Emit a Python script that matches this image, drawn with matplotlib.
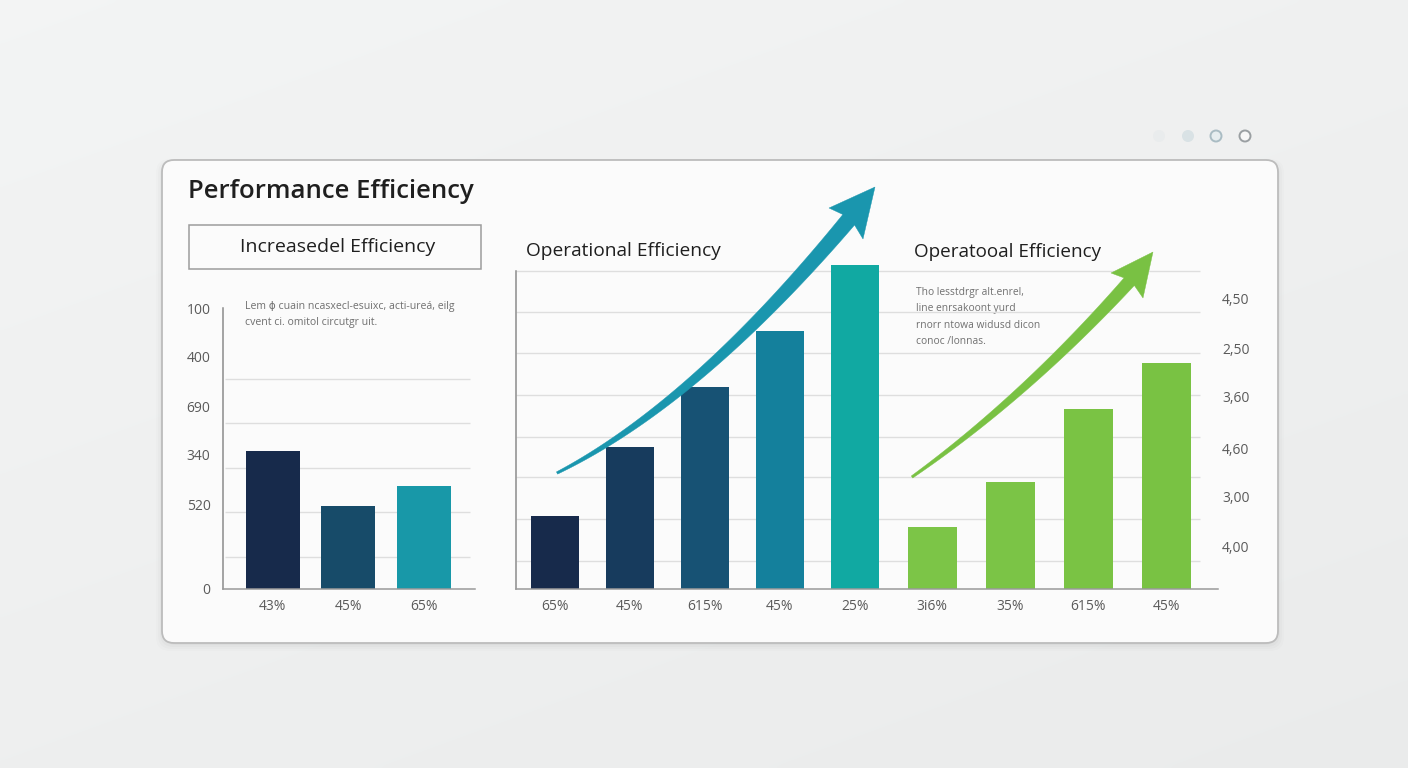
import numpy as np
import matplotlib
matplotlib.use('Agg')
import matplotlib.pyplot as plt
from matplotlib.patches import FancyBboxPatch, Polygon, Circle, Rectangle

W, H = 1408, 768
plt.rcParams['font.family'] = ['Open Sans', 'DejaVu Sans']

# ---------------- data ----------------
left_labels = ['43%', '45%', '65%']
left_values = [138, 83, 103]
left_colors = ['#172a4b', '#174b69', '#1898a8']
left_ytick_vals = [0, 85, 134, 183, 232, 281]
left_ytick_labels = ['0', '520', '340', '690', '400', '100']
left_grid = [32, 77, 121, 166, 210]

ops_labels = ['65%', '45%', '615%', '45%', '25%']
ops_values = [73, 142, 202, 258, 324]
ops_colors = ['#172a4b', '#173b5d', '#175274', '#14809c', '#11a9a2']

green_labels = ['3i6%', '35%', '615%', '45%']
green_values = [62, 107, 180, 226]
green_colors = ['#7cc547', '#7bc446', '#7ac344', '#79c243']

right_ytick_vals = [43, 92, 141, 192, 241, 290]
right_ytick_labels = ['4,00', '3,00', '4,60', '3,60', '2,50', '4,50']
main_grid = [28, 70, 112, 152, 194, 236, 277, 318]

title = 'Performance Efficiency'
box_title = 'Increasedel Efficiency'
mid_title = 'Operational Efficiency'
right_title = 'Operatooal Efficiency'
left_note = ['Lem ϕ cuain ncasxecl-esuixc, acti-ureá, eilg',
             'cvent ci. omitol circutgr uit.']
right_note = ['Tho lesstdrgr alt.enrel,', 'line enrsakoont yurd',
              'rnorr ntowa widusd dicon', 'conoc /lonnas.']

TEXT = '#1f1f1f'
TICK = '#5a5a5a'

fig = plt.figure(figsize=(W / 100, H / 100), dpi=100)

# ---------------- background / card ----------------
bg = fig.add_axes([0, 0, 1, 1], zorder=0)
bg.set_xlim(0, W)
bg.set_ylim(H, 0)
bg.axis('off')
yy, xx = np.mgrid[0:H:4, 0:W:4]
g = 0.958 - 0.035 * (0.6 * yy / H + 0.4 * xx / W)
rgb = np.dstack([g - 0.004, g, g])
bg.imshow(np.clip(rgb, 0, 1), extent=[0, W, H, 0], aspect='auto',
          interpolation='bicubic')

for i, a in enumerate([0.025, 0.02, 0.015, 0.01]):
    bg.add_patch(FancyBboxPatch((162 - i * 2, 162 - i), 1116 + i * 4, 483 + i * 3,
                                boxstyle='round,pad=0,rounding_size=14',
                                fc='black', ec='none', alpha=a))
bg.add_patch(FancyBboxPatch((162, 160), 1116, 483,
                            boxstyle='round,pad=0,rounding_size=12',
                            fc='#fbfbfb', ec='#bcbcbc', lw=1.3))

# dots top right
dot_x = [1159, 1188, 1216, 1245]
bg.add_patch(Circle((dot_x[0], 136), 6, fc='#e9eced', ec='none'))
bg.add_patch(Circle((dot_x[1], 136), 6, fc='#d9e2e5', ec='none'))
bg.add_patch(Circle((dot_x[2], 136), 5.5, fc='#e6edef', ec='#a9bcc3', lw=1.4))
bg.add_patch(Circle((dot_x[3], 136), 5.5, fc='#f7f7f7', ec='#9a9fa2', lw=1.4))

# titles
bg.text(188, 192, title, fontsize=18.5, weight='semibold', color=TEXT,
        ha='left', va='center')
bg.add_patch(Rectangle((189, 225), 292, 44, fc='none', ec='#9c9c9c', lw=1.1))
bg.text(338, 247, box_title, fontsize=14, color=TEXT, ha='center', va='center')
bg.text(526, 251, mid_title, fontsize=13.8, color=TEXT, ha='left', va='center')
bg.text(914, 252, right_title, fontsize=13.6, color=TEXT, ha='left', va='center')
for k, line in enumerate(left_note):
    bg.text(245, 306 + k * 17, line, fontsize=7.6, color='#707070',
            ha='left', va='center')
for k, line in enumerate(right_note):
    bg.text(916, 293 + k * 16, line, fontsize=7.4, color='#707070',
            ha='left', va='center')

# ---------------- left chart ----------------
ax1 = fig.add_axes([223 / W, (H - 589) / H, (475 - 223) / W, 290 / H], zorder=2)
ax1.patch.set_alpha(0)
x1 = np.arange(len(left_values))
ax1.set_xlim(-0.656, 2.68)
ax1.set_ylim(0, 290)
ax1.hlines(left_grid, -0.63, 2.61, color='#dedede', lw=1, zorder=0)
ax1.bar(x1, left_values, width=0.715, color=left_colors, zorder=2)
ax1.set_xticks(x1)
ax1.set_xticklabels(left_labels)
ax1.set_yticks(left_ytick_vals)
ax1.set_yticklabels(left_ytick_labels)
ax1.tick_params(axis='both', length=0, labelsize=10, labelcolor=TICK)
ax1.tick_params(axis='y', pad=9)
ax1.tick_params(axis='x', pad=7)
for s in ['top', 'right']:
    ax1.spines[s].set_visible(False)
ax1.spines['left'].set_bounds(0, 281)
ax1.spines['left'].set_color('#8c8c8c')
ax1.spines['bottom'].set_color('#9a9a9a')
ax1.spines['left'].set_linewidth(1.1)
ax1.spines['bottom'].set_linewidth(1.1)

# ---------------- middle + right chart ----------------
ax2 = fig.add_axes([516 / W, (H - 589) / H, (1218 - 516) / W, 330 / H], zorder=2)
ax2.patch.set_alpha(0)
x_ops = np.arange(len(ops_values))
x_green = 5.03 + 1.04 * np.arange(len(green_values))
ax2.set_xlim(-0.52, 8.84)
ax2.set_ylim(0, 330)
ax2.hlines(main_grid, -0.52, 8.6, color='#dedede', lw=1, zorder=0)
ax2.bar(x_ops, ops_values, width=0.653, color=ops_colors, zorder=2)
ax2.bar(x_green, green_values, width=0.653, color=green_colors, zorder=2)
ax2.set_xticks(np.concatenate([x_ops, x_green]))
ax2.set_xticklabels(ops_labels + green_labels)
ax2.yaxis.tick_right()
ax2.set_yticks(right_ytick_vals)
ax2.set_yticklabels(right_ytick_labels)
ax2.tick_params(axis='both', length=0, labelsize=10, labelcolor=TICK)
ax2.tick_params(axis='y', pad=3)
ax2.tick_params(axis='x', pad=7)
for s in ['top', 'right']:
    ax2.spines[s].set_visible(False)
ax2.spines['left'].set_bounds(0, 318)
ax2.spines['left'].set_color('#8c8c8c')
ax2.spines['bottom'].set_color('#9a9a9a')
ax2.spines['left'].set_linewidth(1.1)
ax2.spines['bottom'].set_linewidth(1.1)

# ---------------- trend arrows (overlay) ----------------
ov = fig.add_axes([0, 0, 1, 1], zorder=5)
ov.set_xlim(0, W)
ov.set_ylim(H, 0)
ov.axis('off')
ov.patch.set_alpha(0)


def tapered_arrow(ax, p0, p1, w0, w1, tip, hl, hr, color):
    tip = np.array(tip, float)
    base = (np.array(hl, float) + np.array(hr, float)) / 2
    P0, P1 = np.array(p0, float), np.array(p1, float)
    P2 = base + 0.3 * (tip - base)
    t = np.linspace(0, 1, 120)
    B = ((1 - t) ** 2)[:, None] * P0 + (2 * (1 - t) * t)[:, None] * P1 + (t ** 2)[:, None] * P2
    d = (2 * (1 - t))[:, None] * (P1 - P0) + (2 * t)[:, None] * (P2 - P1)
    d /= np.linalg.norm(d, axis=1)[:, None]
    n = np.stack([-d[:, 1], d[:, 0]], axis=1)
    w = (w0 + (w1 - w0) * t)[:, None] / 2
    poly = np.vstack([B + n * w, (B - n * w)[::-1]])
    ax.add_patch(Polygon(poly, closed=True, fc=color, ec=color, lw=0.3))
    notch = base + 0.15 * (tip - base)
    ax.add_patch(Polygon([hl, tip, hr, notch], closed=True, fc=color, ec=color, lw=0.3))


tapered_arrow(ov, (557, 473), (698, 402), 2.5, 16,
              (875, 187), (829, 208), (863, 239), '#1a96ae')
tapered_arrow(ov, (912, 477), (1028, 395), 2.5, 13,
              (1153, 252), (1111, 273), (1143, 298), '#79c143')

fig.savefig('out.png', dpi=100)
